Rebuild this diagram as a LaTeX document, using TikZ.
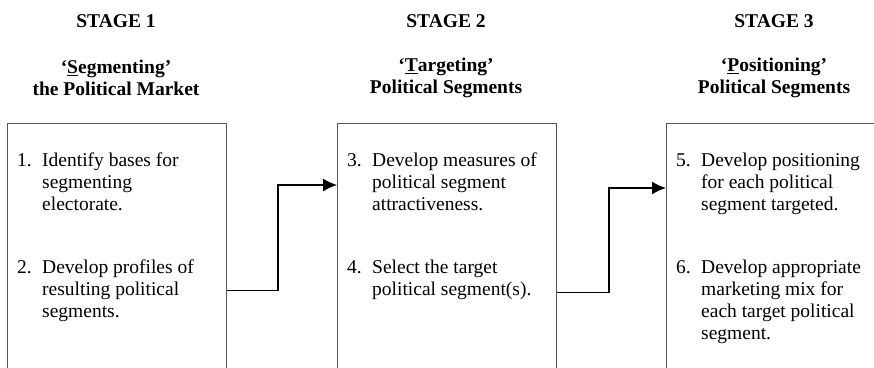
\documentclass[tikz,border=0pt]{standalone}
\usepackage{fontspec}
\setmainfont{Liberation Serif}
\usetikzlibrary{arrows.meta}
\definecolor{boxgray}{HTML}{555555}

\begin{document}
\begin{tikzpicture}[x=1pt,y=-1pt,font=\fontsize{19.5}{22}\selectfont]
        \clip (0,0) rectangle (874,367);
        \begin{scope}[every node/.style={font=\fontsize{19.5}{22}\selectfont\bfseries, align=center, inner sep=0}]
                \node (H1) at (116,21) {STAGE 1};
                \node (H2) at (446,21) {STAGE 2};
                \node (H3) at (774,21) {STAGE 3};

                \node (N1) at (116,78) {‘\underline{S}egmenting’\\the Political Market};
                \node (N2) at (446,78) {‘\underline{T}argeting’\\Political Segments};
                \node (N3) at (774,78) {‘\underline{P}ositioning’\\Political Segments};
        \end{scope}
        \begin{scope}[every node/.style={draw=boxgray, line width=1pt, anchor=north west, minimum width=219, minimum height=334, inner sep=0}]
                \node (S1) at (7,123) {};
                \node (S2) at (337,123) {};
                \node (S3) at (666,123) {};
        \end{scope}
        \begin{scope}[every node/.style={anchor=base west, inner sep=0}]
                \node (I1) at (17,166) {\begin{tabular}[t]{@{}p{25pt}@{}l@{}}1. & Identify bases for\\ & segmenting\\ & electorate.\end{tabular}};
                \node (I2) at (17,273) {\begin{tabular}[t]{@{}p{25pt}@{}l@{}}2. & Develop profiles of\\ & resulting political\\ & segments.\end{tabular}};
                \node (I3) at (347,166) {\begin{tabular}[t]{@{}p{25pt}@{}l@{}}3. & Develop measures of\\ & political segment\\ & attractiveness.\end{tabular}};
                \node (I4) at (347,273) {\begin{tabular}[t]{@{}p{25pt}@{}l@{}}4. & Select the target\\ & political segment(s).\end{tabular}};
                \node (I5) at (676,166) {\begin{tabular}[t]{@{}p{25pt}@{}l@{}}5. & Develop positioning\\ & for each political\\ & segment targeted.\end{tabular}};
                \node (I6) at (676,273) {\begin{tabular}[t]{@{}p{25pt}@{}l@{}}6. & Develop appropriate\\ & marketing mix for\\ & each target political\\ & segment.\end{tabular}};
        \end{scope}
        \begin{scope}[every path/.style={line width=1.3pt, -{Latex[length=14pt,width=13pt]}}]
                \coordinate (K1) at (278,185);
                \coordinate (K2) at (609,188);
                \draw (S1.east) -| (K1) -- (K1 -| S2.west);
                \draw ([yshift=-2pt]S2.east) -| (K2) -- (K2 -| S3.west);
        \end{scope}
\end{tikzpicture}
\end{document}
